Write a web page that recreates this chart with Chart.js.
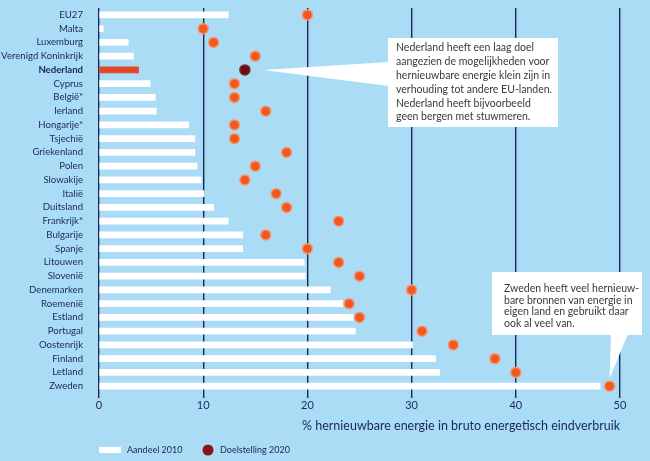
<!DOCTYPE html>
<html><head><meta charset="utf-8">
<script src="https://cdn.jsdelivr.net/npm/chart.js@4"></script>
<style>html,body{margin:0;padding:0;background:#aadcf6}#wrap{width:650px;height:461px;position:relative}</style>
</head><body><div id="wrap"><canvas id="c" width="650" height="461"></canvas></div>
<script>
const countries = ['EU27','Malta','Luxemburg','Verenigd Koninkrijk','Nederland','Cyprus','België*','Ierland','Hongarije*','Tsjechië','Griekenland','Polen','Slowakije','Italië','Duitsland','Frankrijk*','Bulgarije','Spanje','Litouwen','Slovenië','Denemarken','Roemenië','Estland','Portugal','Oostenrijk','Finland','Letland','Zweden'];
const share2010 = [12.4,0.4,2.8,3.3,3.8,4.9,5.4,5.5,8.6,9.2,9.2,9.4,9.8,10.1,11.0,12.4,13.8,13.8,19.7,19.8,22.2,23.4,24.4,24.6,30.1,32.3,32.7,48.1];
const target2020 = [20,10,11,15,14,13,13,16,13,13,18,15,14,17,18,23,16,20,23,25,30,24,25,31,34,38,40,49];
const xTicks = [0,10,20,30,40,50];
const legendLabels = ['Aandeel 2010','Doelstelling 2020'];
const axisTitle = '% hernieuwbare energie in bruto energetisch eindverbruik';
const note1 = ['Nederland heeft een laag doel','aangezien de mogelijkheden voor','hernieuwbare energie klein zijn in','verhouding tot andere EU-landen.','Nederland heeft bijvoorbeeld','geen bergen met stuwmeren.'];
const note2 = ['Zweden heeft veel hernieuw-','bare bronnen van energie in','eigen land en gebruikt daar','ook al veel van.'];

const FONT = "Lato, 'Noto Sans', sans-serif";
const NAVY = '#1c2753';
const HL = 'Nederland';

const bgPlugin = {
  id: 'bg',
  beforeDraw(chart) {
    const ctx = chart.ctx;
    ctx.save();
    ctx.fillStyle = '#aadcf6';
    ctx.fillRect(0, 0, chart.width, chart.height);
    ctx.restore();
  }
};

function drawNote(ctx, box, lines, lineH, pointer) {
  ctx.save();
  ctx.fillStyle = '#ffffff';
  ctx.beginPath();
  ctx.moveTo(pointer[0][0], pointer[0][1]);
  ctx.lineTo(pointer[1][0], pointer[1][1]);
  ctx.lineTo(pointer[2][0], pointer[2][1]);
  ctx.closePath();
  ctx.fill();
  ctx.fillRect(box.x, box.y, box.w, box.h);
  ctx.fillStyle = '#3a3a3a';
  ctx.font = '10.5px ' + FONT;
  ctx.textBaseline = 'middle';
  ctx.textAlign = 'left';
  lines.forEach((t, i) => ctx.fillText(t, box.x + box.px, box.y + box.py + i * lineH));
  ctx.restore();
}

const notesPlugin = {
  id: 'notes',
  afterDatasetsDraw(chart) {
    const ctx = chart.ctx;
    const xs = chart.scales.x, ys = chart.scales.y;
    const iNL = countries.indexOf('Nederland');
    const iSE = countries.indexOf('Zweden');
    const nlx = xs.getPixelForValue(target2020[iNL]) + 18;
    const nly = ys.getPixelForValue(iNL);
    drawNote(ctx, {x: 388, y: 38, w: 170, h: 89, px: 8, py: 10}, note1, 13.8,
      [[nlx, nly], [389, nly - 8], [389, nly + 16]]);
    const sex = xs.getPixelForValue(target2020[iSE]);
    const sey = ys.getPixelForValue(iSE) - 8;
    drawNote(ctx, {x: 492, y: 272, w: 150, h: 63, px: 12, py: 17}, note2, 11.5,
      [[sex, sey], [611, 334], [628, 334]]);
  }
};

const legendPlugin = {
  id: 'customLegend',
  afterDraw(chart) {
    const ctx = chart.ctx;
    const y = 450;
    ctx.save();
    ctx.fillStyle = '#ffffff';
    ctx.fillRect(99, y - 3, 22, 6);
    ctx.fillStyle = '#8a1416';
    ctx.beginPath();
    ctx.arc(208, y, 5.5, 0, Math.PI * 2);
    ctx.fill();
    ctx.fillStyle = NAVY;
    ctx.font = '9px ' + FONT;
    ctx.textBaseline = 'middle';
    ctx.fillText(legendLabels[0], 127, y);
    ctx.fillText(legendLabels[1], 220, y);
    ctx.restore();
  }
};

new Chart(document.getElementById('c'), {
  data: {
    labels: countries,
    datasets: [
      {
        type: 'line',
        label: legendLabels[1],
        indexAxis: 'y',
        data: target2020,
        showLine: false,
        order: 0,
        pointRadius: 5,
        pointHoverRadius: 5,
        pointBorderWidth: 1.5,
        pointBackgroundColor: countries.map(c => c === HL ? '#6a0d12' : '#f05a22'),
        pointBorderColor: countries.map(c => c === HL ? '#7a2a2a' : 'rgba(248,150,110,0.95)'),
        clip: false
      },
      {
        type: 'bar',
        label: legendLabels[0],
        indexAxis: 'y',
        data: share2010,
        order: 1,
        barThickness: 6,
        backgroundColor: countries.map(c => c === HL ? '#e2462b' : '#ffffff'),
        borderWidth: 0
      }
    ]
  },
  options: {
    indexAxis: 'y',
    responsive: false,
    animation: false,
    devicePixelRatio: 1,
    layout: { autoPadding: false, padding: { left: 0, right: 30, top: 8, bottom: 28 } },
    plugins: { legend: { display: false }, tooltip: { enabled: false } },
    scales: {
      x: {
        type: 'linear',
        min: 0, max: 50,
        afterBuildTicks: s => { s.ticks = xTicks.map(v => ({ value: v })); },
        afterFit: s => { s.height = 40; },
        border: { display: false },
        grid: { color: NAVY, lineWidth: 1.4, tickLength: 5, drawTicks: true },
        ticks: { color: NAVY, font: { family: FONT, size: 11 }, padding: 1 },
        title: { display: true, text: axisTitle, align: 'end', color: NAVY,
                 font: { family: FONT, size: 12.5 }, padding: { top: 0, bottom: 0 } }
      },
      y: {
        type: 'category',
        offset: true,
        afterFit: s => { s.width = 99; s.paddingTop = 0; s.paddingBottom = 0; },
        border: { display: false },
        grid: { display: false, drawTicks: false },
        ticks: {
          color: NAVY,
          autoSkip: false,
          padding: 16,
          font: ctx => ({ family: FONT, size: 9.6, weight: countries[ctx.index] === HL ? 'bold' : 'normal' })
        }
      }
    }
  },
  plugins: [bgPlugin, notesPlugin, legendPlugin]
});
</script></body></html>
